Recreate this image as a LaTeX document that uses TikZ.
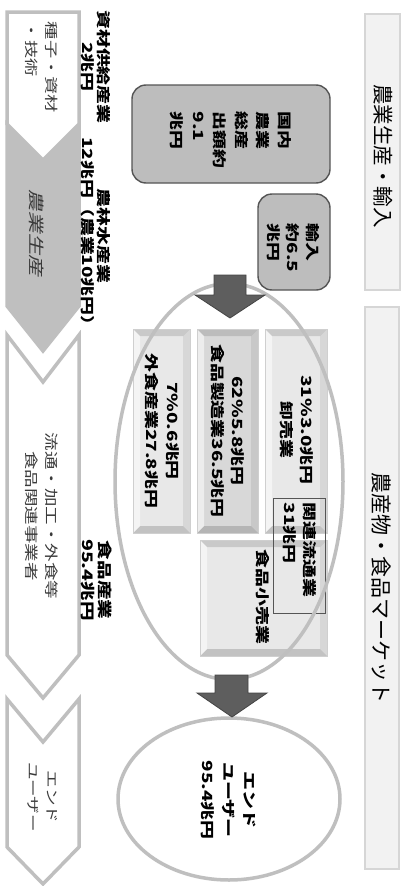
\documentclass[tikz,border=0pt]{standalone}
\usepackage{fontspec}
\setmainfont{Noto Sans CJK JP}
\newfontfamily\jpslant{Noto Sans CJK JP}[FakeSlant=0.2]
\usetikzlibrary{shapes.geometric}
\definecolor{chevgrey}{HTML}{BFBFBF}
\definecolor{boxgrey}{HTML}{BDBDBD}
\definecolor{darkline}{HTML}{555555}
\definecolor{arrowfill}{HTML}{5E5E5E}
\definecolor{arrowdraw}{HTML}{444444}
\definecolor{labelfill}{HTML}{F2F2F2}
\definecolor{labeldraw}{HTML}{D6D6D6}
\definecolor{ellgrey}{HTML}{BFBFBF}
\definecolor{bevA}{HTML}{E8E8E8}
\definecolor{bevB}{HTML}{D8D8D8}
\definecolor{bevedge}{HTML}{CFCFCF}
\definecolor{txtgrey}{HTML}{3A3A3A}
\begin{document}
\begin{tikzpicture}[x=1pt,y=-1pt,
  jt/.style={rotate=-90, xscale=1.35, inner sep=0pt, align=center},
  chev/.style={draw=chevgrey, line width=3.5pt, line join=miter},
  labelbox/.style={draw=labeldraw, fill=labelfill, line width=2pt, inner sep=0pt},
  roundbox/.style={draw=darkline, fill=boxgrey, line width=1.4pt, rounded corners=14pt, inner sep=0pt},
  ellbox/.style={draw=ellgrey, line width=3.5pt, ellipse, inner sep=0pt},
  bevel/.style={fill=#1, draw=bevedge, line width=0.6pt, inner sep=0pt, outer sep=0pt,
    path picture={
      \path (path picture bounding box.north west) coordinate (bnw)
            (path picture bounding box.north east) coordinate (bne)
            (path picture bounding box.south west) coordinate (bsw)
            (path picture bounding box.south east) coordinate (bse);
      \fill[black,opacity=.13] (bnw) -- (bne) -- ([shift={(-7pt,-7pt)}]bne) -- ([shift={(7pt,-7pt)}]bnw) -- cycle;
      \fill[black,opacity=.16] (bsw) -- (bse) -- ([shift={(-7pt,7pt)}]bse) -- ([shift={(7pt,7pt)}]bsw) -- cycle;
      \fill[white,opacity=.55] (bnw) -- (bsw) -- ([shift={(7pt,7pt)}]bsw) -- ([shift={(7pt,-7pt)}]bnw) -- cycle;
      \fill[black,opacity=.07] (bne) -- (bse) -- ([shift={(-7pt,7pt)}]bse) -- ([shift={(-7pt,-7pt)}]bne) -- cycle;
    }},
  blockarrow/.style={fill=arrowfill, draw=arrowdraw, line width=0.8pt, line join=miter}
]
\fill[white] (0,0) rectangle (404,886);
\useasboundingbox (0,0) rectangle (404,886);

% right side labels
\node[labelbox, minimum width=35pt, minimum height=276pt] (lab1) at (382.5,152) {};
\node[labelbox, minimum width=34pt, minimum height=562pt] (lab2) at (382,588) {};

% chevrons (left column)
\path[chev, fill=chevgrey] (7,124) -- (43,160) -- (79,124) -- (79,306) -- (43,351) -- (7,306) -- cycle;
\path[chev, fill=white] (7,12) -- (79,12) -- (79,124) -- (43,160) -- (7,124) -- cycle;
\path[chev, fill=white] (7,335) -- (43,382) -- (79,335) -- (79,655) -- (43,698) -- (7,655) -- cycle;
\path[chev, fill=white] (7,699) -- (43,742) -- (79,699) -- (79,847) -- (43,884) -- (7,847) -- cycle;

% rounded boxes
\node[roundbox, minimum width=198pt, minimum height=98pt] (dom) at (231,134) {};
\node[roundbox, minimum width=72pt, minimum height=96pt] (imp) at (294,242) {};

% bevel boxes
\node[bevel=bevA, minimum width=62pt, minimum height=204pt] (boxA) at (296,431) {};
\node[bevel=bevB, minimum width=61pt, minimum height=204pt] (boxB) at (227.5,431) {};
\node[bevel=bevA, minimum width=57pt, minimum height=204pt] (boxC) at (161.5,431) {};
\node[bevel=bevA, minimum width=127pt, minimum height=116pt] (boxD) at (263.5,598) {};
\node[draw=darkline, line width=1pt, inner sep=0pt, minimum width=52pt, minimum height=115pt] (boxE) at (299,555.5) {};

% ellipses
\node[ellbox, minimum width=228pt, minimum height=396pt] (mkt) at (229,481.5) {};
\node[ellbox, minimum width=222pt, minimum height=162pt] (enduser) at (229,799) {};

% block arrows
\path[blockarrow] (214,275) -- (246,275) -- (246,295) -- (265,295) -- (230,318) -- (195,295) -- (214,295) -- cycle;
\path[blockarrow] (215,675) -- (248,675) -- (248,693) -- (267,693) -- (232,717) -- (197,693) -- (215,693) -- cycle;

% texts: chevrons
\node[jt, align=left, text=txtgrey, font=\fontsize{13.5}{20}\selectfont] (tseed) at (42,67.5) {種子・資材\\・技術};
\node[jt, text=txtgrey, font=\jpslant\fontsize{16}{18}\selectfont] (tfarm) at (37,233) {農業生産};
\node[jt, text=txtgrey, font=\fontsize{13.7}{20}\selectfont] (tdist) at (42,516) {流通・加工・外食等\\食品関連事業者};
\node[jt, text=txtgrey, font=\fontsize{13}{19}\selectfont] (tend) at (42.5,797) {エンド\\ユーザー};

% texts: industry labels
\node[jt, font=\bfseries\fontsize{14}{16}\selectfont] (tsup) at (96,67) {資材供給産業\\2兆円};
\node[jt, font=\bfseries\fontsize{14}{16}\selectfont] (tagri) at (96,236) {農林水産業\\12兆円（農業10兆円）};
\node[jt, font=\bfseries\fontsize{14.5}{17}\selectfont] (tfood) at (97,580) {食品産業\\95.4兆円};

% texts: boxes
\node[jt, align=left, font=\bfseries\fontsize{14}{21.5}\selectfont] (tdom) at (231,140) {国内\\農業\\総産\\出額約\\9.1\\兆円};
\node[jt, align=left, font=\bfseries\fontsize{14}{19.5}\selectfont] (timp) at (293,248) {輸入\\約6.5\\兆円};
\node[jt, font=\bfseries\fontsize{14}{20}\selectfont] (tA) at (297,430) {31\%3.0兆円\\卸売業};
\node[jt, font=\bfseries\fontsize{14}{20}\selectfont] (tB) at (228,431) {62\%5.8兆円\\食品製造業36.5兆円};
\node[jt, font=\bfseries\fontsize{14}{21}\selectfont] (tC) at (162.5,431) {7\%0.6兆円\\外食産業27.8兆円};
\node[jt, font=\bfseries\fontsize{14}{20}\selectfont] (tD) at (263,597) {食品小売業};
\node[jt, align=left, font=\bfseries\fontsize{14}{20}\selectfont] (tE) at (300,550) {関連流通業\\31兆円};
\node[jt, font=\bfseries\fontsize{14}{21}\selectfont] (tEU) at (229,800) {エンド\\ユーザー\\95.4兆円};

% texts: right labels
\node[rotate=-90, inner sep=0pt, font=\fontsize{20.5}{24}\selectfont] (tr1) at (383,156) {農業生産・輸入};
\node[rotate=-90, inner sep=0pt, font=\fontsize{21}{24}\selectfont] (tr2) at (381,588) {農産物・食品マーケット};
\end{tikzpicture}
\end{document}
